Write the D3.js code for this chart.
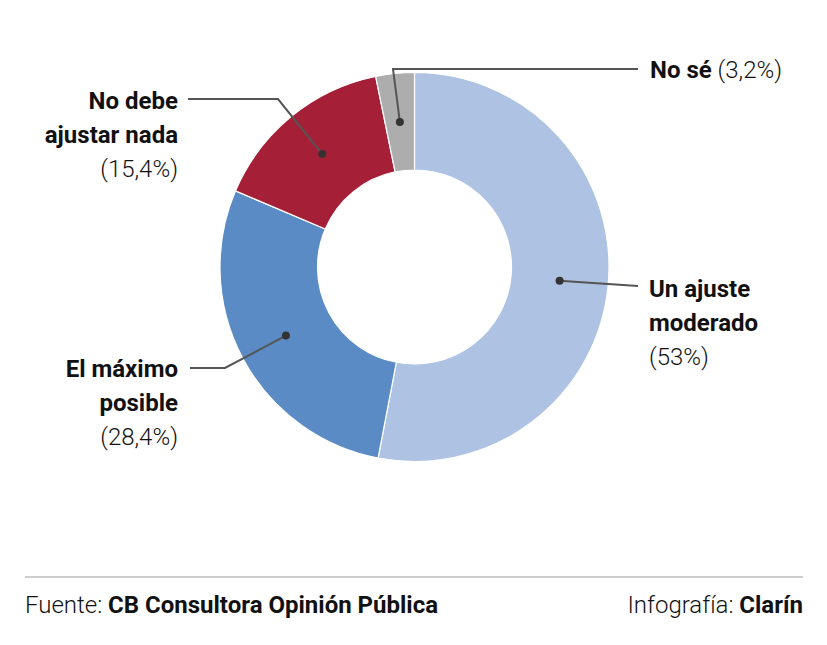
<!DOCTYPE html>
<html>
<head>
<meta charset="utf-8">
<script src="https://cdn.jsdelivr.net/npm/d3@7"></script>
<style>
  body { margin: 0; background: #fff; }
  svg text { font-family: Roboto, "Noto Sans", sans-serif; fill: #111; }
</style>
</head>
<body>
<div id="chart"></div>
<script>
// data
const categories = ["Un ajuste moderado", "El máximo posible", "No debe ajustar nada", "No sé"]
const values = [53, 28.4, 15.4, 3.2]
const valueLabels = ["(53%)", "(28,4%)", "(15,4%)", "(3,2%)"]
const sliceColors = ["#aec3e3", "#5a8bc5", "#a52037", "#adadad"]

const width = 827, height = 645
const cx = 414.5, cy = 267
const outer = 194.5, inner = 97

const svg = d3.select("#chart")
  .append("svg")
    .attr("width", width)
    .attr("height", height)

const g = svg.append("g")
  .attr("transform", `translate(${cx},${cy})`)

const color = d3.scaleOrdinal()
  .domain(categories)
  .range(sliceColors)

const pie = d3.pie()
  .value(d => d.value)
  .sort(null)

const arc = d3.arc()
  .innerRadius(inner)
  .outerRadius(outer)

const data = categories.map((c, i) => ({name: c, value: values[i], pct: valueLabels[i]}))
const data_ready = pie(data)

g.selectAll("path")
  .data(data_ready)
  .join("path")
    .attr("d", arc)
    .attr("fill", d => color(d.data.name))
    .attr("stroke", "#fff")
    .attr("stroke-width", 1.2)

// label layout: elbow point, line end, text anchor, lines
const layout = [
  {elbow: [638, 286], end: [638, 286], tx: 649, ty: 297, anchor: "start", lines: ["Un ajuste", "moderado"], inline: false},
  {elbow: [225, 368], end: [190, 368], tx: 178, ty: 377, anchor: "end", lines: ["El máximo", "posible"], inline: false},
  {elbow: [278, 99], end: [188, 99], tx: 178, ty: 109, anchor: "end", lines: ["No debe", "ajustar nada"], inline: false},
  {elbow: [393, 69], end: [638, 69], tx: 650, ty: 78, anchor: "start", lines: ["No sé"], inline: true}
]

const lineH = 34

data_ready.forEach((d, i) => {
  const c = arc.centroid(d)
  const p = [c[0] + cx, c[1] + cy]
  const L = layout[i]

  svg.append("polyline")
    .attr("points", [p, L.elbow, L.end].map(q => q.join(",")).join(" "))
    .attr("fill", "none")
    .attr("stroke", "#555")
    .attr("stroke-width", 2)

  svg.append("circle")
    .attr("cx", p[0])
    .attr("cy", p[1])
    .attr("r", 4)
    .attr("fill", "#333")

  const t = svg.append("text")
    .attr("x", L.tx)
    .attr("y", L.ty)
    .attr("text-anchor", L.anchor)
    .style("font-size", "24px")

  if (L.inline) {
    t.append("tspan").attr("font-weight", 700).text(L.lines[0])
    t.append("tspan").attr("font-weight", 300).text(" " + d.data.pct)
  } else {
    L.lines.forEach((ln, k) => {
      t.append("tspan")
        .attr("x", L.tx)
        .attr("y", L.ty + k * lineH)
        .attr("font-weight", 700)
        .text(ln)
    })
    t.append("tspan")
      .attr("x", L.tx)
      .attr("y", L.ty + L.lines.length * lineH)
      .attr("font-weight", 300)
      .text(d.data.pct)
  }
})

// footer
svg.append("line")
  .attr("x1", 25).attr("x2", 803)
  .attr("y1", 577).attr("y2", 577)
  .attr("stroke", "#cfcfcf")
  .attr("stroke-width", 2)

const src = svg.append("text")
  .attr("x", 25).attr("y", 613)
  .style("font-size", "24px")
src.append("tspan").attr("font-weight", 300).text("Fuente: ")
src.append("tspan").attr("font-weight", 700).text("CB Consultora Opinión Pública")

const credit = svg.append("text")
  .attr("x", 803).attr("y", 613)
  .attr("text-anchor", "end")
  .style("font-size", "24px")
credit.append("tspan").attr("font-weight", 300).text("Infografía: ")
credit.append("tspan").attr("font-weight", 700).text("Clarín")
</script>
</body>
</html>
